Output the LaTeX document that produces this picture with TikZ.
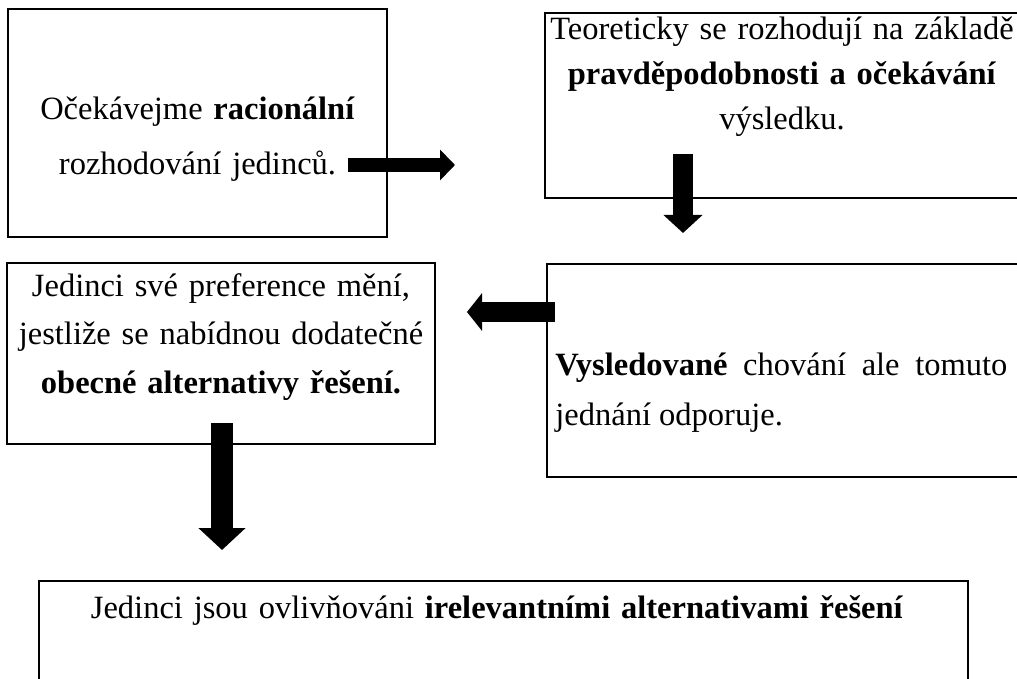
\documentclass[tikz,border=0pt]{standalone}
\usepackage{fontspec}
\setmainfont{Liberation Serif}
\usetikzlibrary{arrows.meta}
\usetikzlibrary{positioning}
\usetikzlibrary{calc}

\begin{document}
\begin{tikzpicture}[x=0.5pt,y=-0.5pt,
  box/.style={draw, line width=1.3pt, inner sep=0pt},
  txt/.style={inner sep=0pt, anchor=base, align=center, text width=232pt,
    font=\fontsize{16.25}{#1}\selectfont},
  txt/.default=24,
  blk/.style={line width=#1}]

  \useasboundingbox (0,0) rectangle (1017,679);

  % the five boxes
  \node[box, minimum width=189.5pt, minimum height=114pt] (expect) at (197.5,123) {};
  \node[box, minimum width=237pt,   minimum height=92.5pt] (theory) at (782,105.5) {};
  \node[box, minimum width=214pt,   minimum height=90.5pt] (prefer) at (221,353.5) {};
  \node[box, minimum width=236.5pt, minimum height=106.5pt] (observe) at (783.5,370.5) {};
  \node[box, minimum width=464.5pt, minimum height=59.5pt] (irrel) at (503.5,640.5) {};

  % texts of the boxes
  \node[txt=27.5] (expecttext) at (197.5,120)
    {Očekávejme \textbf{racionální}\\ rozhodování jedinců.};
  \node[txt=22.5] (theorytext) at (782,40)
    {Teoreticky se rozhodují na základě\\ \textbf{pravděpodobnosti a očekávání}\\ výsledku.};
  \node[txt=24] (prefertext) at (221,297)
    {Jedinci své preference mění,\\ jestliže se nabídnou dodatečné\\ \textbf{obecné alternativy řešení.}};
  \node[txt=25, anchor=base west, align=justify, text width=226pt] (observetext) at (555,375)
    {\textbf{Vysledované} chování ale tomuto\linebreak jednání odporuje.};
  \node[txt, text width=460pt] (irreltext) at (497,618)
    {Jedinci jsou ovlivňováni \textbf{irelevantními alternativami řešení}};

  % ends of the block arrows
  \coordinate (r1) at (348,165);
  \coordinate (r2) at (455,165);
  \coordinate (d1) at (683,154);
  \coordinate (d2) at (683,233);
  \coordinate (l1) at (555,312);
  \coordinate (l2) at (467,312);
  \coordinate (e1) at (222,423);
  \coordinate (e2) at (222,550);

  % block arrows
  \draw[blk=7pt,  -{Triangle[width=15pt,length=7.5pt]}]   (r1) -- (r2);
  \draw[blk=10pt, -{Triangle[width=19pt,length=9pt]}]     (d1) -- (d2);
  \draw[blk=10pt, -{Triangle[width=18.5pt,length=7.5pt]}] (l1) -- (l2);
  \draw[blk=11pt, -{Triangle[width=23pt,length=11pt]}]    (e1) -- (e2);

\end{tikzpicture}
\end{document}
